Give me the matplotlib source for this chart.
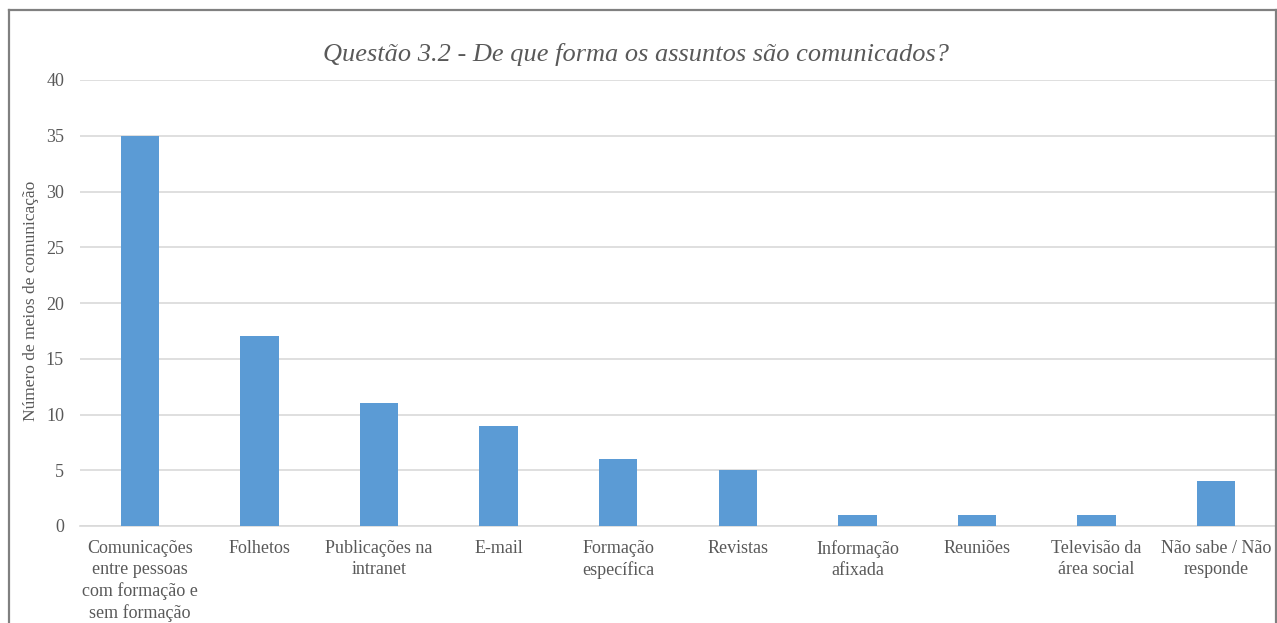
import matplotlib
matplotlib.use("Agg")
import matplotlib.pyplot as plt
from matplotlib.lines import Line2D

categories = [
    "Comunicações\nentre pessoas\ncom formação e\nsem formação",
    "Folhetos",
    "Publicações na\nintranet",
    "E-mail",
    "Formação\nespecífica",
    "Revistas",
    "Informação\nafixada",
    "Reuniões",
    "Televisão da\nárea social",
    "Não sabe / Não\nresponde",
]
values = [35, 17, 11, 9, 6, 5, 1, 1, 1, 4]
yticks = [0, 5, 10, 15, 20, 25, 30, 35, 40]

title = "Questão 3.2 - De que forma os assuntos são comunicados?"
ylabel = "Número de meios de comunicação"

W, H = 1277, 623
fig = plt.figure(figsize=(W / 100, H / 100), dpi=100)
plt.rcParams['font.family'] = ['Liberation Serif', 'DejaVu Serif']
text_color = "#595959"

ax = fig.add_axes([80 / W, 1 - 526 / H, (1276 - 80) / W, (526 - 80) / H])
x = list(range(len(categories)))
ax.bar(x, values, width=0.32, color="#5B9BD5", zorder=3)
ax.set_xlim(-0.5, len(categories) - 0.5)
ax.set_ylim(0, 40)
ax.set_yticks(yticks)
ax.set_yticklabels([str(v) for v in yticks], fontsize=13, color=text_color)
ax.set_xticks(x)
ax.set_xticklabels(categories, fontsize=13, color=text_color, linespacing=1.3, va="top")
ax.tick_params(axis="both", length=0)
ax.tick_params(axis="y", pad=11.5)
ax.tick_params(axis="x", pad=10)
ax.grid(axis="y", color="#d9d9d9", linewidth=1.2, zorder=0)
for s in ["top", "right", "left"]:
    ax.spines[s].set_visible(False)
ax.spines["bottom"].set_color("#d9d9d9")
ax.spines["bottom"].set_linewidth(1.2)

fig.text(31 / W, 1 - 301 / H, ylabel, fontsize=12.5, color=text_color, rotation=90,
         ha="center", va="center")
fig.text(636 / W, 1 - 54 / H, title, fontsize=19, style="italic", color=text_color,
         ha="center", va="center")

# figure border (left, top, right)
bx0, by0, bx1 = 9 / W, 1 - 10 / H, 1276 / W
fig.add_artist(Line2D([bx0, bx0], [0, by0], transform=fig.transFigure, color="#808080", lw=1.6))
fig.add_artist(Line2D([bx0, bx1], [by0, by0], transform=fig.transFigure, color="#808080", lw=1.6))
fig.add_artist(Line2D([bx1, bx1], [0, by0], transform=fig.transFigure, color="#808080", lw=1.6))

fig.savefig("out.png", dpi=100)
